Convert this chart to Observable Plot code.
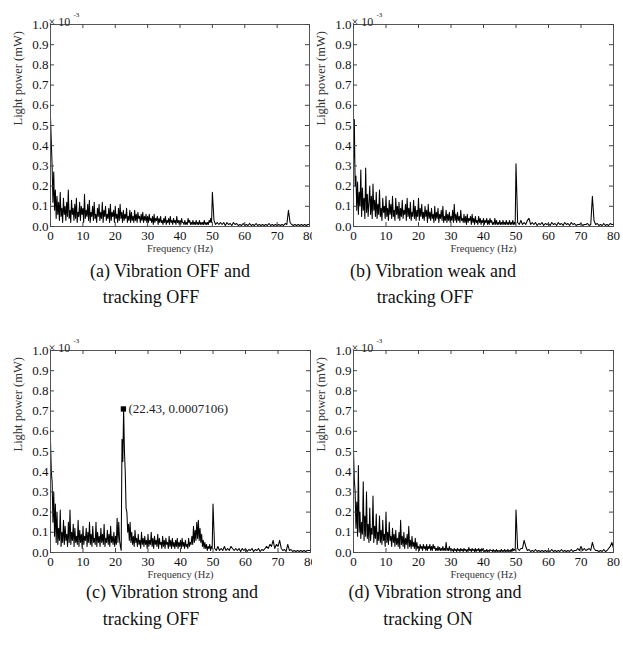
<!DOCTYPE html>
<html><head><meta charset="utf-8">
<script src="https://cdn.jsdelivr.net/npm/d3@7"></script>
<script src="https://cdn.jsdelivr.net/npm/@observablehq/plot@0.6"></script>
<style>
body{margin:0;background:#fff;}
#fig{position:relative;width:623px;height:652px;background:#fff;overflow:hidden;font-family:'Liberation Serif','Times New Roman',serif;}
.pnl{position:absolute;}
.pnl svg{background:#fff;}
.cap{position:absolute;font-size:18px;color:#111;white-space:nowrap;transform:translate(-50%,-50%);line-height:1;}
</style></head><body><div id="fig"></div>
<script>
// Spectra in units of 1e-3 mW.
// "Lo" arrays: 0 to 49.75 Hz every 0.25 Hz; "Hi" arrays: 50 to 80 Hz every 0.5 Hz.
const loStep = 0.25, hiStart = 50, hiStep = 0.5;

const powerALo = [
0.54,0.42,0.30,0.12,0.27,0.08,0.18,0.04,0.15,0.06,0.12,0.03,0.17,0.05,0.09,0.02,0.14,0.06,0.10,0.03,
0.12,0.05,0.18,0.04,0.08,0.02,0.13,0.06,0.09,0.03,0.11,0.04,0.14,0.02,0.07,0.05,0.12,0.03,0.10,0.06,
0.09,0.02,0.16,0.04,0.08,0.05,0.11,0.03,0.13,0.02,0.07,0.05,0.10,0.03,0.12,0.04,0.06,0.02,0.09,0.05,
0.11,0.03,0.07,0.04,0.12,0.02,0.08,0.05,0.10,0.03,0.06,0.04,0.09,0.02,0.11,0.03,0.07,0.05,0.08,0.02,
0.10,0.04,0.06,0.02,0.09,0.03,0.11,0.04,0.07,0.02,0.08,0.03,0.06,0.04,0.09,0.02,0.05,0.03,0.08,0.02,
0.07,0.03,0.05,0.02,0.08,0.03,0.06,0.02,0.07,0.04,0.05,0.02,0.06,0.03,0.07,0.02,0.05,0.03,0.06,0.02,
0.05,0.02,0.06,0.03,0.04,0.02,0.05,0.01,0.06,0.02,0.04,0.03,0.05,0.01,0.04,0.02,0.05,0.02,0.03,0.01,
0.04,0.02,0.05,0.01,0.03,0.02,0.04,0.01,0.05,0.02,0.03,0.01,0.04,0.02,0.03,0.01,0.05,0.02,0.03,0.01,
0.03,0.01,0.04,0.02,0.02,0.01,0.03,0.01,0.02,0.01,0.04,0.02,0.03,0.01,0.02,0.01,0.03,0.01,0.02,0.01,
0.03,0.01,0.02,0.01,0.03,0.01,0.02,0.01,0.02,0.01,0.03,0.01,0.02,0.01,0.02,0.01,0.03,0.02,0.04,0.02];
const powerAHi = [
0.17,0.03,0.01,0.02,0.01,0.02,0.01,0.02,0.005,0.02,
0.01,0.015,0.005,0.02,0.01,0.015,0.005,0.01,0.005,0.015,
0.005,0.01,0.005,0.015,0.005,0.01,0.005,0.015,0.005,0.01,
0.005,0.01,0.005,0.01,0.005,0.015,0.005,0.01,0.005,0.01,
0.005,0.01,0.005,0.01,0.005,0.015,0.01,0.08,0.02,0.01,
0.005,0.01,0.005,0.01,0.005,0.01,0.005,0.01,0.005,0.01,
0.01];

const powerBLo = [
0.30,0.53,0.20,0.25,0.08,0.22,0.06,0.17,0.10,0.28,0.05,0.19,0.08,0.14,0.04,0.29,0.07,0.16,0.05,0.12,
0.20,0.06,0.15,0.04,0.21,0.08,0.13,0.05,0.17,0.04,0.11,0.06,0.18,0.05,0.09,0.03,0.14,0.07,0.10,0.04,
0.15,0.05,0.09,0.03,0.13,0.06,0.11,0.04,0.15,0.05,0.08,0.03,0.14,0.06,0.10,0.04,0.12,0.03,0.09,0.05,
0.13,0.04,0.08,0.06,0.11,0.03,0.14,0.05,0.09,0.04,0.12,0.03,0.07,0.05,0.13,0.04,0.10,0.03,0.08,0.05,
0.14,0.03,0.09,0.05,0.11,0.04,0.07,0.03,0.10,0.05,0.08,0.02,0.11,0.04,0.07,0.03,0.09,0.04,0.06,0.02,
0.10,0.03,0.07,0.04,0.09,0.02,0.06,0.04,0.08,0.03,0.10,0.02,0.05,0.03,0.08,0.02,0.06,0.03,0.07,0.02,
0.05,0.03,0.08,0.02,0.11,0.03,0.06,0.02,0.07,0.03,0.05,0.02,0.08,0.03,0.04,0.02,0.06,0.02,0.05,0.01,
0.06,0.02,0.04,0.03,0.05,0.01,0.06,0.02,0.04,0.01,0.05,0.02,0.03,0.01,0.05,0.02,0.04,0.01,0.03,0.02,
0.04,0.01,0.03,0.02,0.04,0.01,0.03,0.01,0.04,0.02,0.03,0.01,0.02,0.01,0.04,0.01,0.03,0.01,0.02,0.01,
0.03,0.01,0.02,0.01,0.03,0.01,0.02,0.01,0.03,0.01,0.02,0.01,0.03,0.01,0.02,0.01,0.03,0.01,0.02,0.01];
const powerBHi = [
0.31,0.02,0.01,0.03,0.01,0.02,0.01,0.03,0.04,0.01,
0.02,0.01,0.02,0.005,0.015,0.01,0.02,0.005,0.015,0.01,
0.015,0.005,0.02,0.01,0.015,0.005,0.02,0.01,0.015,0.005,
0.02,0.01,0.015,0.005,0.02,0.01,0.015,0.005,0.01,0.01,
0.015,0.005,0.01,0.01,0.015,0.005,0.01,0.15,0.03,0.01,
0.015,0.005,0.01,0.005,0.015,0.005,0.01,0.005,0.015,0.01,
0.01];

const powerCLo = [
0.55,0.40,0.35,0.15,0.30,0.08,0.24,0.05,0.20,0.04,0.12,0.06,0.21,0.03,0.10,0.05,0.16,0.04,0.13,0.06,
0.09,0.03,0.15,0.05,0.21,0.04,0.10,0.06,0.14,0.03,0.12,0.05,0.08,0.04,0.16,0.03,0.11,0.05,0.09,0.02,
0.13,0.04,0.08,0.06,0.12,0.03,0.10,0.05,0.15,0.04,0.09,0.03,0.13,0.05,0.07,0.04,0.15,0.03,0.10,0.05,
0.08,0.03,0.12,0.05,0.09,0.04,0.14,0.03,0.07,0.05,0.11,0.04,0.09,0.03,0.13,0.05,0.08,0.04,0.10,0.03,
0.08,0.04,0.17,0.05,0.15,0.06,0.03,0.01,0.56,0.45,0.71,0.50,0.40,0.22,0.20,0.10,0.14,0.06,0.15,0.05,
0.10,0.04,0.08,0.03,0.11,0.05,0.07,0.03,0.09,0.04,0.06,0.02,0.10,0.04,0.07,0.03,0.08,0.04,0.06,0.02,
0.09,0.03,0.06,0.04,0.10,0.03,0.07,0.02,0.08,0.04,0.06,0.03,0.09,0.02,0.07,0.04,0.05,0.02,0.08,0.03,
0.06,0.02,0.07,0.04,0.05,0.02,0.08,0.03,0.06,0.02,0.07,0.03,0.05,0.02,0.06,0.03,0.07,0.02,0.05,0.03,
0.06,0.02,0.07,0.03,0.05,0.02,0.06,0.03,0.04,0.02,0.07,0.03,0.05,0.04,0.08,0.04,0.13,0.05,0.11,0.06,
0.15,0.07,0.16,0.06,0.12,0.05,0.09,0.03,0.06,0.02,0.05,0.02,0.04,0.01,0.03,0.02,0.04,0.01,0.03,0.02];
const powerCHi = [
0.24,0.02,0.01,0.03,0.01,0.02,0.01,0.03,0.01,0.02,
0.01,0.03,0.02,0.01,0.02,0.01,0.02,0.005,0.02,0.01,
0.02,0.005,0.015,0.01,0.02,0.005,0.015,0.01,0.02,0.005,
0.015,0.01,0.02,0.03,0.02,0.04,0.03,0.06,0.02,0.04,
0.03,0.06,0.02,0.01,0.015,0.005,0.04,0.01,0.015,0.005,
0.01,0.005,0.01,0.005,0.01,0.005,0.01,0.005,0.01,0.01,
0.01];

const powerDLo = [
0.50,0.36,0.30,0.12,0.25,0.08,0.43,0.10,0.20,0.07,0.15,0.09,0.35,0.06,0.18,0.08,0.30,0.07,0.14,0.05,
0.22,0.06,0.12,0.09,0.28,0.05,0.13,0.07,0.19,0.04,0.10,0.06,0.18,0.05,0.11,0.04,0.16,0.06,0.09,0.03,
0.20,0.05,0.10,0.04,0.15,0.06,0.08,0.03,0.12,0.05,0.09,0.03,0.11,0.04,0.07,0.03,0.10,0.02,0.16,0.04,
0.08,0.03,0.10,0.02,0.07,0.04,0.09,0.02,0.13,0.03,0.06,0.02,0.08,0.03,0.05,0.02,0.07,0.01,0.05,0.02,
0.03,0.01,0.04,0.02,0.03,0.01,0.04,0.02,0.03,0.01,0.04,0.01,0.03,0.02,0.04,0.01,0.03,0.01,0.04,0.02,
0.03,0.01,0.02,0.01,0.03,0.01,0.025,0.01,0.02,0.01,0.03,0.01,0.02,0.01,0.05,0.01,0.02,0.01,0.03,0.01,
0.02,0.01,0.015,0.005,0.02,0.01,0.015,0.005,0.02,0.01,0.015,0.005,0.02,0.01,0.015,0.005,0.02,0.01,0.015,0.005,
0.015,0.005,0.025,0.01,0.015,0.005,0.02,0.01,0.015,0.005,0.02,0.005,0.015,0.01,0.02,0.005,0.015,0.005,0.02,0.01,
0.015,0.005,0.01,0.005,0.015,0.005,0.01,0.005,0.015,0.01,0.01,0.005,0.015,0.005,0.01,0.005,0.015,0.005,0.01,0.005,
0.01,0.005,0.015,0.005,0.01,0.005,0.015,0.005,0.01,0.005,0.015,0.005,0.01,0.005,0.015,0.005,0.02,0.01,0.015,0.01];
const powerDHi = [
0.21,0.02,0.01,0.02,0.02,0.06,0.03,0.01,0.015,0.005,
0.01,0.005,0.015,0.005,0.01,0.005,0.01,0.005,0.01,0.005,
0.01,0.005,0.015,0.005,0.01,0.005,0.01,0.005,0.015,0.005,
0.01,0.005,0.01,0.005,0.015,0.005,0.01,0.01,0.02,0.01,
0.03,0.01,0.02,0.01,0.015,0.02,0.01,0.05,0.02,0.01,
0.01,0.005,0.01,0.005,0.015,0.005,0.01,0.02,0.03,0.05,
0.02];

const xTicks = [0,10,20,30,40,50,60,70,80];
const yTicks = [0,0.1,0.2,0.3,0.4,0.5,0.6,0.7,0.8,0.9,1.0];
const xLabel = "Frequency (Hz)";
const yLabel = "Light power (mW)";
const captionsLine1 = ["(a) Vibration OFF and","(b) Vibration weak and","(c) Vibration strong and","(d) Vibration strong and"];
const captionsLine2 = ["tracking OFF","tracking OFF","tracking OFF","tracking ON"];
const peakMarker = [{f: 22.43, p: 0.7106, label: "(22.43, 0.0007106)"}];

const series = [[powerALo, powerAHi], [powerBLo, powerBHi], [powerCLo, powerCHi], [powerDLo, powerDHi]];

const layout = [
  {left: 0,   top: 0,   width: 312, ml: 50, mr: 3},
  {left: 312, top: 0,   width: 311, ml: 41, mr: 10},
  {left: 0,   top: 326, width: 312, ml: 50, mr: 2},
  {left: 312, top: 326, width: 311, ml: 41, mr: 10}
];
const H = 258, MT = 24, MB = 32;
const frameH = H - MT - MB;
const font = "'Liberation Serif','Times New Roman',serif";

const fig = document.getElementById("fig");

series.forEach(([lo, hi], k) => {
  const L = layout[k];
  const data = lo.map((v, i) => ({f: i * loStep, p: v}))
    .concat(hi.map((v, j) => ({f: hiStart + j * hiStep, p: v})));
  const frameW = L.width - L.ml - L.mr;
  const marks = [
    Plot.line(data, {x: "f", y: "p", stroke: "#000", strokeWidth: 1.05}),
    Plot.frame({stroke: "#555", strokeWidth: 1}),
    // inward ticks on all four sides
    Plot.ruleX(xTicks, {x: d => d, insetTop: frameH - 4, stroke: "#444"}),
    Plot.ruleX(xTicks, {x: d => d, insetBottom: frameH - 4, stroke: "#444"}),
    Plot.ruleY(yTicks, {y: d => d, insetRight: frameW - 4, stroke: "#444"}),
    Plot.ruleY(yTicks, {y: d => d, insetLeft: frameW - 4, stroke: "#444"}),
    Plot.axisX(xTicks, {tickSize: 0, tickPadding: 4, label: null, fontSize: 13, fill: "#111"}),
    Plot.axisY(yTicks, {tickSize: 0, tickPadding: 2, label: null, tickFormat: d => d.toFixed(1), fontSize: 13, fill: "#111"}),
    Plot.text([xLabel], {text: d => d, frameAnchor: "bottom", dy: 25, fontSize: 10.5, fill: "#333"}),
    Plot.text([yLabel], {text: d => d, frameAnchor: "left", rotate: -90, dx: -33, fontSize: 12.5, fill: "#333"}),
    Plot.text(["\u00d7 10"], {text: d => d, frameAnchor: "top-left", textAnchor: "start", dx: -2, dy: -7, fontSize: 12, fill: "#222"}),
    Plot.text(["-3"], {text: d => d, frameAnchor: "top-left", textAnchor: "start", dx: 23, dy: -12, fontSize: 7, fill: "#222"})
  ];
  if (k === 2) {
    marks.push(Plot.dot(peakMarker, {x: "f", y: "p", symbol: "square", r: 3, fill: "#000"}));
    marks.push(Plot.text(peakMarker, {x: "f", y: "p", text: "label", textAnchor: "start", dx: 5, fontSize: 13, fill: "#222"}));
  }
  const plot = Plot.plot({
    width: L.width, height: H,
    marginLeft: L.ml, marginRight: L.mr, marginTop: MT, marginBottom: MB,
    x: {domain: [0, 80]},
    y: {domain: [0, 1.0]},
    style: {fontFamily: font, fontSize: "13px", background: "#fff", overflow: "hidden"},
    marks
  });
  const div = document.createElement("div");
  div.className = "pnl";
  div.style.left = L.left + "px";
  div.style.top = L.top + "px";
  div.appendChild(plot);
  fig.appendChild(div);
});

const capPos = [
  {x1: 170, y1: 271, x2: 151, y2: 297},
  {x1: 433, y1: 271, x2: 425, y2: 297},
  {x1: 172, y1: 592, x2: 151, y2: 619},
  {x1: 435, y1: 592, x2: 428, y2: 619}
];
captionsLine1.forEach((t, k) => {
  const a = document.createElement("div");
  a.className = "cap"; a.textContent = t;
  a.style.left = capPos[k].x1 + "px"; a.style.top = capPos[k].y1 + "px";
  fig.appendChild(a);
  const b = document.createElement("div");
  b.className = "cap"; b.textContent = captionsLine2[k];
  b.style.left = capPos[k].x2 + "px"; b.style.top = capPos[k].y2 + "px";
  fig.appendChild(b);
});
</script></body></html>
